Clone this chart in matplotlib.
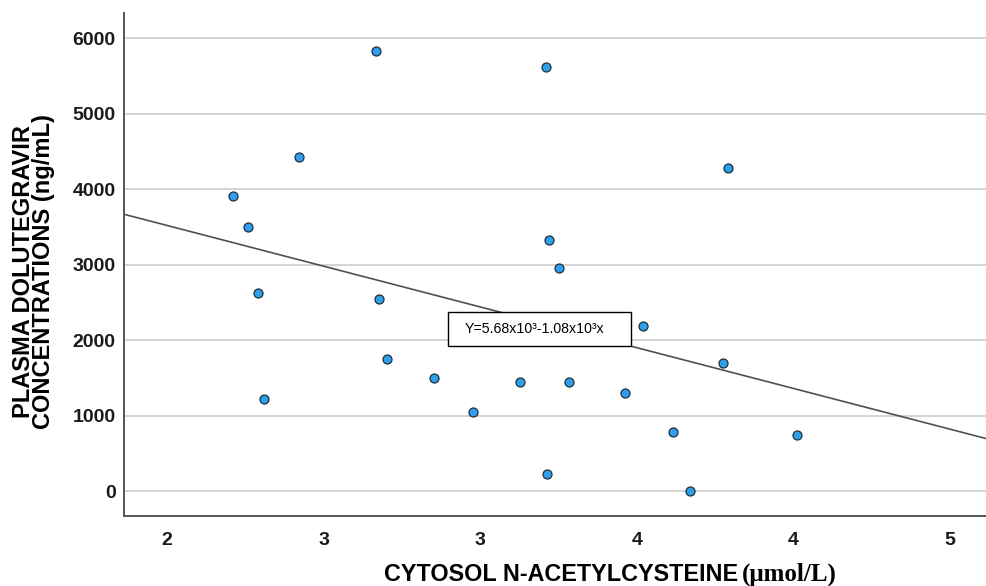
import matplotlib
matplotlib.use('Agg')
from matplotlib import pyplot as plt
from matplotlib.patches import Rectangle

# cytosol NAC (umol/L) and plasma dolutegravir (ng/mL)
nac = [2.212, 2.259, 2.290, 2.311, 2.423, 2.667, 2.678, 2.703, 2.852, 2.978,
       3.127, 3.211, 3.212, 3.220, 3.251, 3.283, 3.464, 3.521, 3.617, 3.670,
       3.791, 3.775, 4.012]
dtg = [3910, 3499, 2628, 1223, 4427, 5828, 2549, 1753, 1502, 1043,
       1445, 5616, 221, 3327, 2960, 1445, 1303, 2191, 786, 0,
       4277, 1696, 738]

# fitted line Y = 5.68e3 - 1.08e3 x
intercept = 5680
slope = -1080

x_ticks = [2.0, 2.5, 3.0, 3.5, 4.0, 4.5]
x_tick_labels = ['2', '3', '3', '4', '4', '5']
y_ticks = [0, 1000, 2000, 3000, 4000, 5000, 6000]
x_range = (1.863, 4.615)
y_range = (-335, 6335)

SANS = 'Liberation Sans'
SERIF = 'Liberation Serif'


def main():
    fig = plt.figure(figsize=(9.86, 5.86), dpi=100)
    ax = fig.add_axes([0.1258, 0.1189, 0.8742, 0.8589])

    ax.set_xlim(*x_range)
    ax.set_ylim(*y_range)

    for y in y_ticks:
        ax.axhline(y, color='#d3d3d3', lw=1.4, zorder=1)

    xs = list(x_range)
    ax.plot(xs, [intercept + slope * x for x in xs], color='#505050', lw=1.2, zorder=2)

    ax.scatter(nac, dtg, s=42, color='#2e9fea', edgecolors='#1e2f3d',
               linewidths=0.9, zorder=3)

    ax.set_xticks(x_ticks)
    ax.set_xticklabels(x_tick_labels)
    ax.set_yticks(y_ticks)
    ax.tick_params(length=0, labelsize=14)
    ax.tick_params(axis='x', pad=11)
    ax.tick_params(axis='y', pad=6)
    for lab in ax.get_xticklabels() + ax.get_yticklabels():
        lab.set_fontfamily(SANS)
        lab.set_fontweight('bold')
        lab.set_color('#1a1a1a')

    for side in ['top', 'right']:
        ax.spines[side].set_visible(False)
    for side in ['left', 'bottom']:
        ax.spines[side].set_color('#555555')
        ax.spines[side].set_linewidth(1.4)

    # equation box
    ax.add_patch(Rectangle((0.376, 0.3384), 0.2123, 0.0676, transform=ax.transAxes,
                           facecolor='white', edgecolor='black', lw=1.0, zorder=4))
    ax.text(0.3956, 0.372, 'Y=5.68x10³-1.08x10³x', transform=ax.transAxes,
            ha='left', va='center', fontsize=10.2, family=SANS, color='black', zorder=5)

    # axis titles
    fig.text(0.034, 0.537, 'PLASMA DOLUTEGRAVIR\nCONCENTRATIONS (ng/mL)',
             rotation=90, ha='center', va='center', fontsize=17, fontweight='bold',
             family=SANS, linespacing=0.88, color='black')
    fig.text(384 / 986, 0.0085, 'CYTOSOL N-ACETYLCYSTEINE', ha='left', va='baseline',
             fontsize=16.8, fontweight='bold', family=SANS, color='black')
    fig.text(742 / 986, 0.0085, '(μmol/L)', ha='left', va='baseline',
             fontsize=18, fontweight='bold', family=SERIF, color='black')

    fig.savefig('out.png', dpi=100)


if __name__ == '__main__':
    main()
